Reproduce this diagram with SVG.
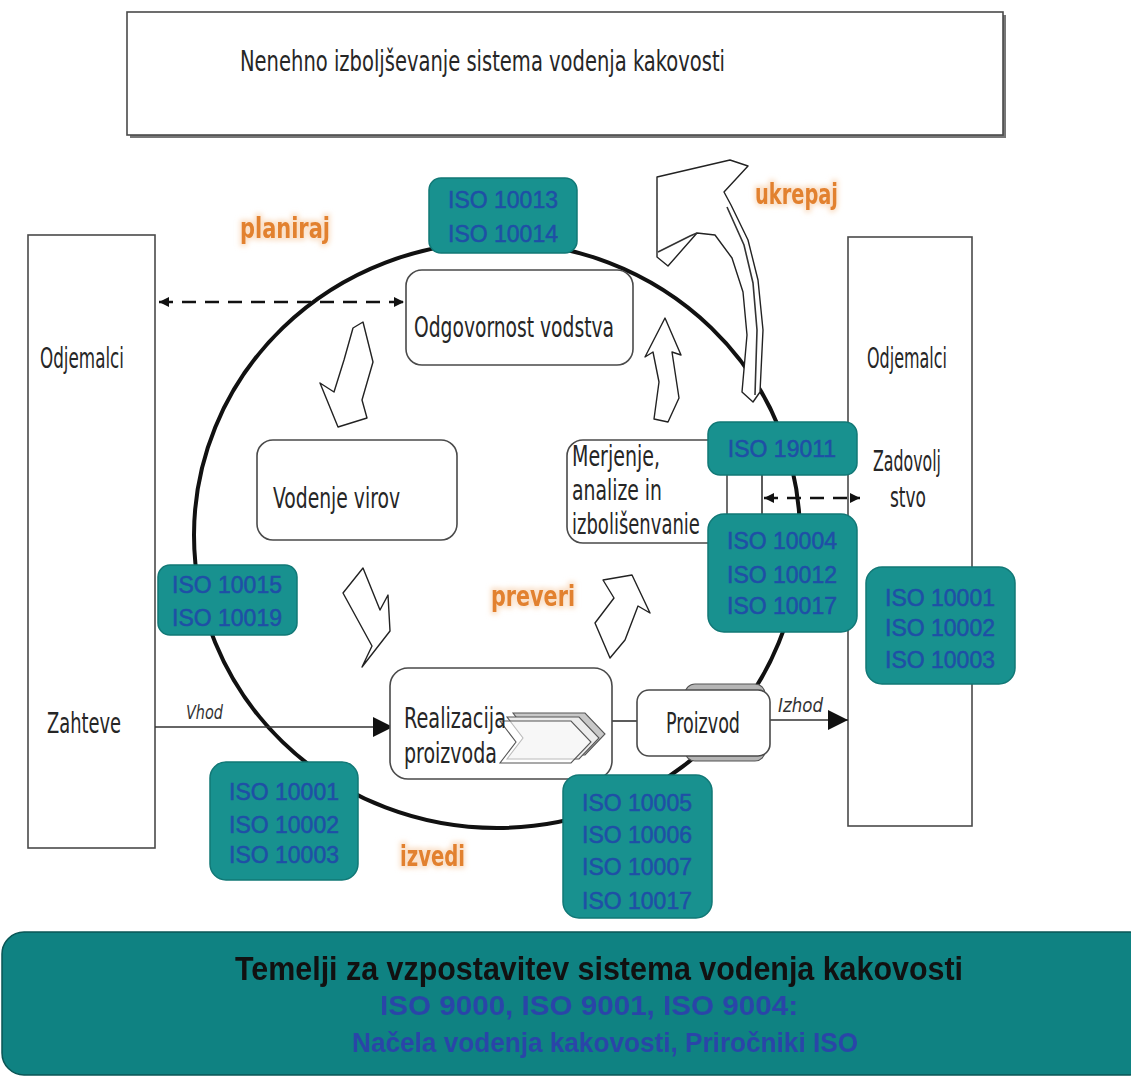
<svg xmlns="http://www.w3.org/2000/svg" width="1131" height="1079" viewBox="0 0 1131 1079">
<style>
.box{fill:#fff;stroke:#4a4a4a;stroke-width:1.6}
.iso{fill:#18918f;stroke:#117876;stroke-width:1.5}
.isot{font-family:"Liberation Sans",Arial,sans-serif;font-size:23px;fill:#1f4fa6;stroke:#1f4fa6;stroke-width:0.5;text-anchor:middle}
.cond{font-family:"DejaVu Sans Condensed","DejaVu Sans",sans-serif;font-stretch:condensed;fill:#262626;font-size:29px}
.it{font-family:"DejaVu Sans Condensed","DejaVu Sans",sans-serif;font-style:italic;fill:#333;font-size:19px}
.or{font-family:"DejaVu Sans Condensed","DejaVu Sans",sans-serif;font-stretch:condensed;font-weight:bold;fill:#e2812f;font-size:28px}
.glow{fill:#f6c9a0;stroke:#f8d4b4;stroke-width:5;opacity:0.7}
.blk{fill:#fff;stroke:#222;stroke-width:1.4;stroke-linejoin:round}
.ln{stroke:#333;stroke-width:1.6;fill:none}
.dash{stroke:#111;stroke-width:2.6;stroke-dasharray:14 9;fill:none}
.ft{font-family:"Liberation Sans",Arial,sans-serif;font-weight:bold;text-anchor:middle}
</style>
<defs>
<marker id="tri" viewBox="0 0 10 10" refX="10" refY="5" markerWidth="10" markerHeight="10" markerUnits="userSpaceOnUse" orient="auto-start-reverse">
<path d="M0,0 L10,5 L0,10 z" fill="#111"/>
</marker>
<marker id="big" viewBox="0 0 10 10" refX="10" refY="5" markerWidth="22" markerHeight="20" markerUnits="userSpaceOnUse" orient="auto">
<path d="M0,0 L10,5 L0,10 z" fill="#111"/>
</marker>
<filter id="blur" x="-20%" y="-40%" width="140%" height="180%">
<feGaussianBlur stdDeviation="2.5"/>
</filter>
</defs>

<g id="top-box">
<rect x="130" y="15" width="876" height="123" fill="#777"/>
<rect x="127" y="12" width="876" height="123" class="box"/>
<text x="240" y="71" class="cond" textLength="485" lengthAdjust="spacingAndGlyphs">Nenehno izboljševanje sistema vodenja kakovosti</text>
</g>

<g id="left-customers">
<rect x="28" y="235" width="127" height="613" class="box"/>
<text x="40" y="368" class="cond" textLength="84" lengthAdjust="spacingAndGlyphs">Odjemalci</text>
<text x="47" y="733" class="cond" textLength="74" lengthAdjust="spacingAndGlyphs">Zahteve</text>
</g>

<g id="right-customers">
<rect x="848" y="237" width="124" height="589" class="box"/>
<text x="867" y="368" class="cond" textLength="80" lengthAdjust="spacingAndGlyphs">Odjemalci</text>
<text x="873" y="471" class="cond" textLength="68" lengthAdjust="spacingAndGlyphs">Zadovolj</text>
<text x="890" y="507" class="cond" textLength="36" lengthAdjust="spacingAndGlyphs">stvo</text>
</g>

<g id="cycle">
<ellipse cx="497" cy="535" rx="303" ry="293" fill="none" stroke="#111" stroke-width="4"/>
</g>

<g id="connectors">
<line x1="159" y1="302" x2="404" y2="302" class="dash" marker-start="url(#tri)" marker-end="url(#tri)"/>
<line x1="762" y1="475" x2="762" y2="514" class="ln"/>
<line x1="764" y1="498" x2="860" y2="498" class="dash" marker-start="url(#tri)" marker-end="url(#tri)"/>
<line x1="155" y1="727" x2="393" y2="727" class="ln" marker-end="url(#big)"/>
<text x="186" y="719" class="it" textLength="37" lengthAdjust="spacingAndGlyphs">Vhod</text>
<line x1="612" y1="721" x2="637" y2="721" class="ln"/>
<line x1="770" y1="720" x2="848" y2="720" class="ln" marker-end="url(#big)"/>
<text x="778" y="712" class="it" textLength="45" lengthAdjust="spacingAndGlyphs">Izhod</text>
</g>

<g id="cycle-arrows">
<polygon class="blk" points="363,322 373,362 362,400 367,418 338,427 320,383 334,392 344,360 353,328"/>
<polygon class="blk" points="363,568 380,610 388,595 390,631 362,667 372,646 343,593"/>
<polygon class="blk" points="632,575 650,613 638,606 625,640 610,658 595,623 614,598 603,580"/>
<polygon class="blk" points="665,318 681,355 672,352 679,398 668,422 654,419 659,382 653,352 645,357"/>
<polygon class="blk" points="657,177 730,160 748,166 724,192 731,205 748,240 758,280 763,330 760,392 753,402 742,392 747,335 743,292 732,258 715,235 697,233 668,266 657,257"/>
<polyline class="ln" stroke-width="1.2" points="727,207 744,245 753,283 757,330 755,395"/>
<polyline class="ln" stroke-width="1.2" points="658,252 690,236 697,233"/>
</g>

<g id="leadership">
<rect x="406" y="270" width="227" height="95" rx="16" class="box"/>
<text x="414" y="337" class="cond" textLength="200" lengthAdjust="spacingAndGlyphs">Odgovornost vodstva</text>
</g>

<g id="resources">
<rect x="257" y="440" width="200" height="100" rx="16" class="box"/>
<text x="273" y="508" class="cond" textLength="127" lengthAdjust="spacingAndGlyphs">Vodenje virov</text>
</g>

<g id="measurement">
<rect x="567" y="440" width="160" height="103" rx="16" class="box"/>
<text x="572" y="466" class="cond" textLength="88" lengthAdjust="spacingAndGlyphs">Merjenje,</text>
<text x="572" y="500" class="cond" textLength="90" lengthAdjust="spacingAndGlyphs">analize in</text>
<text transform="translate(572,534) scale(0.69,1)" class="cond">izbolišenvanie</text>
</g>

<g id="realization">
<rect x="390" y="668" width="222" height="111" rx="18" class="box"/>
<polygon points="513,713 585,713 605,734 585,755 513,755 529,734" fill="#c8c8c8" stroke="#555" stroke-width="1.1"/>
<polygon points="507,717 579,717 599,738 579,759 507,759 523,738" fill="#ececec" stroke="#555" stroke-width="1.1"/>
<polygon points="500,721 571,721 591,742 571,763 500,763 516,742" fill="#fff" stroke="#555" stroke-width="1.1" fill-opacity="0.6"/>
<text x="404" y="728" class="cond" textLength="102" lengthAdjust="spacingAndGlyphs">Realizacija</text>
<text x="404" y="763" class="cond" textLength="93" lengthAdjust="spacingAndGlyphs">proizvoda</text>
</g>

<g id="product">
<rect x="685" y="684" width="80" height="77" rx="10" fill="#b5b5b5" stroke="#555" stroke-width="1.2"/>
<rect x="637" y="690" width="133" height="66" rx="12" class="box"/>
<text x="666" y="733" class="cond" textLength="74" lengthAdjust="spacingAndGlyphs">Proizvod</text>
</g>

<g id="iso-10013">
<rect x="429" y="178" width="148" height="75" rx="12" class="iso"/>
<text x="503" y="208" class="isot">ISO 10013</text>
<text x="503" y="242" class="isot">ISO 10014</text>
</g>

<g id="iso-19011">
<rect x="708" y="422" width="149" height="53" rx="12" class="iso"/>
<text x="782" y="457" class="isot">ISO 19011</text>
</g>

<g id="iso-10004">
<rect x="708" y="514" width="149" height="118" rx="16" class="iso"/>
<text x="782" y="549" class="isot">ISO 10004</text>
<text x="782" y="583" class="isot">ISO 10012</text>
<text x="782" y="614" class="isot">ISO 10017</text>
</g>

<g id="iso-10001-right">
<rect x="866" y="567" width="149" height="117" rx="16" class="iso"/>
<text x="940" y="606" class="isot">ISO 10001</text>
<text x="940" y="636" class="isot">ISO 10002</text>
<text x="940" y="668" class="isot">ISO 10003</text>
</g>

<g id="iso-10015">
<rect x="158" y="565" width="139" height="70" rx="12" class="iso"/>
<text x="227" y="593" class="isot">ISO 10015</text>
<text x="227" y="626" class="isot">ISO 10019</text>
</g>

<g id="iso-10001-left">
<rect x="210" y="762" width="148" height="118" rx="16" class="iso"/>
<text x="284" y="800" class="isot">ISO 10001</text>
<text x="284" y="833" class="isot">ISO 10002</text>
<text x="284" y="863" class="isot">ISO 10003</text>
</g>

<g id="iso-10005">
<rect x="563" y="775" width="149" height="143" rx="16" class="iso"/>
<text x="637" y="811" class="isot">ISO 10005</text>
<text x="637" y="843" class="isot">ISO 10006</text>
<text x="637" y="875" class="isot">ISO 10007</text>
<text x="637" y="909" class="isot">ISO 10017</text>
</g>

<g id="phase-labels">
<g filter="url(#blur)">
<text x="240" y="238" class="or glow" textLength="90" lengthAdjust="spacingAndGlyphs">planiraj</text>
<text x="755" y="204" class="or glow" textLength="83" lengthAdjust="spacingAndGlyphs">ukrepaj</text>
<text x="491" y="606" class="or glow" textLength="84" lengthAdjust="spacingAndGlyphs">preveri</text>
<text x="400" y="866" class="or glow" textLength="65" lengthAdjust="spacingAndGlyphs">izvedi</text>
</g>
<text x="240" y="238" class="or" textLength="90" lengthAdjust="spacingAndGlyphs">planiraj</text>
<text x="755" y="204" class="or" textLength="83" lengthAdjust="spacingAndGlyphs">ukrepaj</text>
<text x="491" y="606" class="or" textLength="84" lengthAdjust="spacingAndGlyphs">preveri</text>
<text x="400" y="866" class="or" textLength="65" lengthAdjust="spacingAndGlyphs">izvedi</text>
</g>

<g id="foundation">
<rect x="2" y="932" width="1150" height="143" rx="22" fill="#0f8282" stroke="#0a5656" stroke-width="1.5"/>
<text transform="translate(599,980) scale(1,1.28)" class="ft" font-size="26" fill="#111" textLength="728" lengthAdjust="spacingAndGlyphs">Temelji za vzpostavitev sistema vodenja kakovosti</text>
<text transform="translate(589,1015) scale(1,1.25)" class="ft" font-size="22" fill="#2a45a8" textLength="418" lengthAdjust="spacingAndGlyphs">ISO 9000, ISO 9001, ISO 9004:</text>
<text transform="translate(605,1052) scale(1,1.25)" class="ft" font-size="22" fill="#2a45a8" textLength="506" lengthAdjust="spacingAndGlyphs">Načela vodenja kakovosti, Priročniki ISO</text>
</g>
</svg>
